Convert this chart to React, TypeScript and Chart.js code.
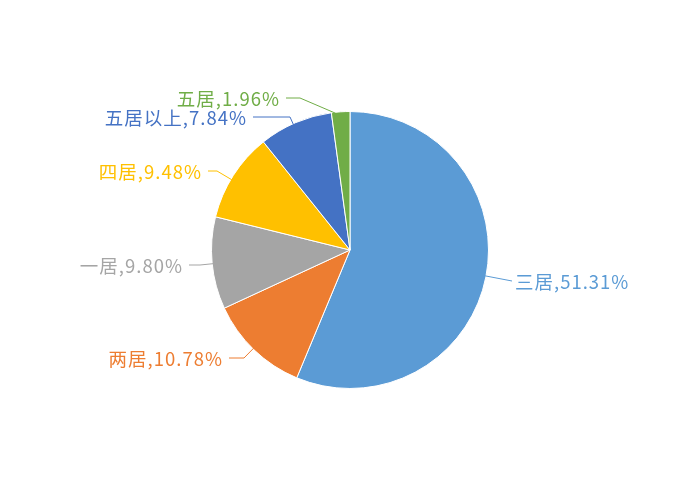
import React, { useEffect, useRef } from "react";
import { Chart, registerables } from "chart.js";

Chart.register(...registerables);

const categories = ["三居", "两居", "一居", "四居", "五居以上", "五居"];
const shares = [51.31, 10.78, 9.8, 9.48, 7.84, 1.96];
const shareLabels = ["51.31%", "10.78%", "9.80%", "9.48%", "7.84%", "1.96%"];
const colors = ["#5B9BD5", "#ED7D31", "#A5A5A5", "#FFC000", "#4472C4", "#70AD47"];

// label layout: text anchor x,y ; align ; elbow (end of horizontal segment)
const labelLayout = [
  { x: 515, y: 282, align: "left", ex: 512 },
  { x: 222, y: 359, align: "right", ex: 244 },
  { x: 182, y: 266, align: "right", ex: 200 },
  { x: 201, y: 172, align: "right", ex: 217 },
  { x: 246, y: 118, align: "right", ex: 290 },
  { x: 279, y: 99, align: "right", ex: 300 },
];

const labelPlugin = {
  id: "pieLabels",
  afterDraw(chart: any) {
    const ctx = chart.ctx;
    const meta = chart.getDatasetMeta(0);
    ctx.save();
    ctx.font = '18.5px "Noto Sans CJK SC", "Noto Sans", sans-serif';
    ctx.textBaseline = "middle";
    meta.data.forEach((arc: any, i: number) => {
      const L = labelLayout[i];
      const { x: cx, y: cy, outerRadius: r, startAngle, endAngle } = arc.getProps(
        ["x", "y", "outerRadius", "startAngle", "endAngle"],
        true
      );
      const text = categories[i] + "," + shareLabels[i];
      ctx.fillStyle = colors[i];
      ctx.textAlign = L.align;
      (ctx as any).letterSpacing = "1px";
      ctx.fillText(text, L.align === "right" ? L.x + 1 : L.x, L.y);
      (ctx as any).letterSpacing = "0px";
      // leader line
      const ly = L.y - 1;
      const startX = L.align === "left" ? L.x - 3 : L.x + 7;
      let a = Math.atan2(ly - cy, L.ex - cx);
      let s = startAngle, e = endAngle;
      while (a < s) a += Math.PI * 2;
      while (a > s + Math.PI * 2) a -= Math.PI * 2;
      if (a > e) {
        const dS = Math.min(Math.abs(a - s - Math.PI * 2), Math.abs(a - s));
        const dE = Math.abs(a - e);
        a = dS < dE ? s + 0.03 : e - 0.03;
      }
      const px = cx + Math.cos(a) * (r - 1);
      const py = cy + Math.sin(a) * (r - 1);
      ctx.strokeStyle = colors[i];
      ctx.lineWidth = 1;
      ctx.beginPath();
      if (L.align === "left") {
        ctx.moveTo(px, py);
        ctx.lineTo(startX, ly);
      } else {
        ctx.moveTo(startX, ly);
        ctx.lineTo(L.ex, ly);
        ctx.lineTo(px, py);
      }
      ctx.stroke();
    });
    ctx.restore();
  },
};

export default function App() {
  const ref = useRef<HTMLCanvasElement>(null);
  useEffect(() => {
    const chart = new Chart(ref.current!, {
      type: "pie",
      data: {
        labels: categories,
        datasets: [
          {
            data: shares,
            backgroundColor: colors,
            borderColor: "#ffffff",
            borderWidth: 1,
          },
        ],
      },
      options: {
        responsive: false,
        animation: false,
        layout: { padding: { top: 111, bottom: 111, left: 211, right: 211 } },
        plugins: {
          legend: { display: false },
          tooltip: { enabled: false },
        },
      },
      plugins: [labelPlugin],
    });
    return () => chart.destroy();
  }, []);
  return (
    <div style={{ position: "fixed", left: 0, top: 0, width: 700, height: 500, background: "#fff" }}>
      <canvas ref={ref} width={700} height={500} />
    </div>
  );
}
